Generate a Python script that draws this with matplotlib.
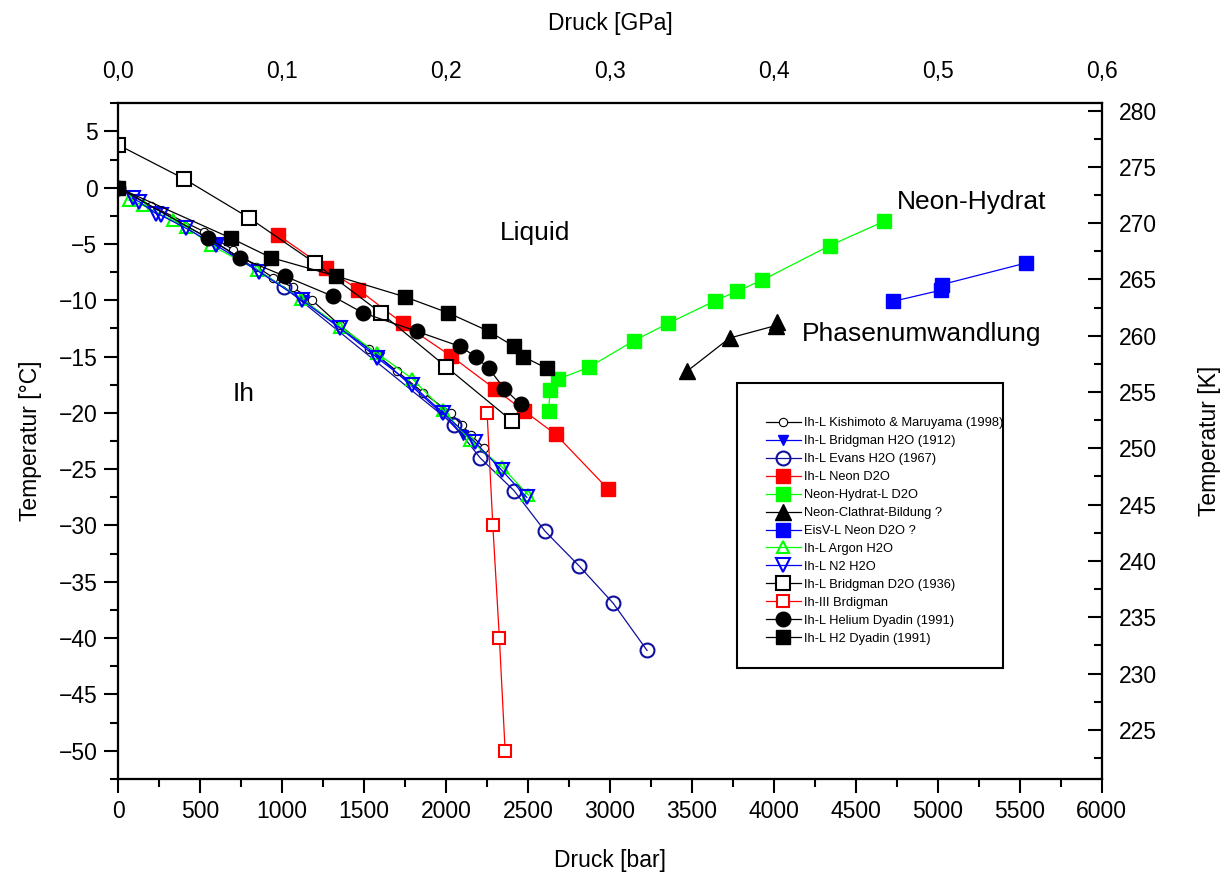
import matplotlib
matplotlib.use("Agg")
import matplotlib.pyplot as plt
from matplotlib.patches import Rectangle
from matplotlib.ticker import MultipleLocator, FuncFormatter

plt.rcParams['font.family'] = ['Liberation Sans', 'DejaVu Sans']

# pressure in bar, temperature in deg C
kishimoto_p = [0, 200, 523, 700, 842, 946, 1065, 1183, 1350, 1530, 1700, 1860, 2029, 2096, 2153, 2232]
kishimoto_t = [0, -1.6, -3.9, -5.5, -7.0, -8.0, -8.85, -10.0, -12.2, -14.3, -16.3, -18.2, -20.05, -21.1, -22.0, -23.1]

bridgman_h2o_p = [0, 610, 1130, 1590, 1970, 2100]
bridgman_h2o_t = [0, -5.0, -10.0, -15.0, -20.0, -22.0]

evans_p = [1010, 2048, 2208, 2414, 2603, 2812, 3019, 3226]
evans_t = [-8.8, -21.05, -24.0, -26.9, -30.5, -33.6, -36.9, -41.1]

neon_d2o_p = [975, 1265, 1465, 1735, 2030, 2300, 2478, 2668, 2990]
neon_d2o_t = [-4.2, -7.15, -9.05, -12.05, -14.95, -17.9, -19.85, -21.9, -26.8]

hydrat_p = [2625, 2635, 2685, 2870, 3145, 3355, 3640, 3775, 3930, 4340, 4670]
hydrat_t = [-19.8, -18.0, -17.0, -15.95, -13.6, -12.05, -10.05, -9.2, -8.2, -5.15, -3.0]

clathrat_p = [3470, 3730, 4010, 4020]
clathrat_t = [-16.3, -13.35, -12.25, -11.95]

eisv_p = [4725, 5020, 5025, 5535]
eisv_t = [-10.1, -9.1, -8.6, -6.7]

argon_p = [65, 148, 331, 413, 564, 848, 1112, 1355, 1579, 1792, 1982, 2147, 2340, 2502]
argon_t = [-1.1, -1.55, -2.9, -3.45, -5.1, -7.3, -9.85, -12.35, -14.7, -16.95, -19.75, -22.45, -24.8, -27.3]

n2_p = [88, 128, 230, 260, 413, 595, 858, 1122, 1355, 1579, 1792, 1984, 2177, 2340, 2492]
n2_t = [-0.95, -1.25, -2.3, -2.45, -3.6, -5.1, -7.45, -10.0, -12.5, -15.1, -17.5, -20.05, -22.6, -25.1, -27.5]

bridgman_d2o_p = [0, 400, 800, 1200, 1600, 2000, 2400]
bridgman_d2o_t = [3.8, 0.8, -2.7, -6.7, -11.1, -15.9, -20.7]

ih3_p = [2250, 2285, 2325, 2360]
ih3_t = [-20, -30, -40, -50]

helium_p = [0, 550, 740, 1015, 1310, 1490, 1820, 2085, 2180, 2260, 2355, 2455]
helium_t = [0, -4.5, -6.2, -7.85, -9.65, -11.1, -12.75, -14.1, -15.0, -16.05, -17.85, -19.25]

h2_p = [0, 690, 930, 1330, 1750, 2010, 2260, 2415, 2470, 2615]
h2_t = [0, -4.5, -6.2, -7.85, -9.7, -11.1, -12.75, -14.1, -15.0, -16.05]

labels = ['Ih-L Kishimoto & Maruyama (1998)', 'Ih-L Bridgman H2O (1912)', 'Ih-L Evans H2O (1967)',
          'Ih-L Neon D2O', 'Neon-Hydrat-L D2O', 'Neon-Clathrat-Bildung ?', 'EisV-L Neon D2O ?',
          'Ih-L Argon H2O', 'Ih-L N2 H2O', 'Ih-L Bridgman D2O (1936)', 'Ih-III Brdigman',
          'Ih-L Helium Dyadin (1991)', 'Ih-L H2 Dyadin (1991)']

# (x, y, line colour, marker, marker size, face colour, edge colour, edge width)
series = [
    (kishimoto_p, kishimoto_t, 'black', 'o', 6, 'white', 'black', 0.8),
    (bridgman_h2o_p, bridgman_h2o_t, '#0000ff', 'v', 7, '#0000ff', '#0000ff', 1.0),
    (evans_p, evans_t, '#1010a0', 'o', 10, 'none', '#1010a0', 1.5),
    (neon_d2o_p, neon_d2o_t, '#ff0000', 's', 10, '#ff0000', '#ff0000', 1.0),
    (hydrat_p, hydrat_t, '#00ff00', 's', 10, '#00ff00', '#00ff00', 1.0),
    (clathrat_p, clathrat_t, 'black', '^', 11, 'black', 'black', 1.0),
    (eisv_p, eisv_t, '#0000ff', 's', 10, '#0000ff', '#0000ff', 1.0),
    (argon_p, argon_t, '#00ff00', '^', 9, 'none', '#00ff00', 1.5),
    (n2_p, n2_t, '#0000ff', 'v', 10, 'none', '#0000ff', 1.5),
    (bridgman_d2o_p, bridgman_d2o_t, 'black', 's', 9.5, 'white', 'black', 1.5),
    (ih3_p, ih3_t, '#ff0000', 's', 9, 'white', '#ff0000', 1.5),
    (helium_p, helium_t, 'black', 'o', 10.5, 'black', 'black', 1.0),
    (h2_p, h2_t, 'black', 's', 10, 'black', 'black', 1.0),
]

fig = plt.figure(figsize=(12.31, 8.8), dpi=100)
ax = fig.add_axes([0.0961, 0.115, 0.7989, 0.7683])

for (x, y, lc, m, ms, fc, ec, ew), lab in zip(series, labels):
    ax.plot(x, y, '-', color=lc, lw=0.9, marker=m, ms=ms, mfc=fc, mec=ec, mew=ew, label=lab)

ax.set_xlim(0, 6000)
ax.set_ylim(-52.5, 7.55)
ax.xaxis.set_major_locator(MultipleLocator(500))
ax.xaxis.set_minor_locator(MultipleLocator(250))
ax.yaxis.set_major_locator(MultipleLocator(5))
ax.yaxis.set_minor_locator(MultipleLocator(2.5))
ax.tick_params(which='major', direction='out', length=10, width=1.5, labelsize=16.5, pad=5)
ax.tick_params(which='minor', direction='out', length=5.5, width=1.5)
ax.tick_params(top=False, right=False)
for sp in ax.spines.values():
    sp.set_linewidth(1.5)
ax.set_xlabel('Druck [bar]', fontsize=16.5, labelpad=19)
ax.set_ylabel('Temperatur [°C]', fontsize=16.5, labelpad=12)

# top axis in GPa
axt = ax.twiny()
axt.set_xlim(0, 0.6)
axt.xaxis.set_major_locator(MultipleLocator(0.1))
axt.xaxis.set_major_formatter(FuncFormatter(lambda v, _: f'{v:.1f}'.replace('.', ',')))
axt.tick_params(axis='x', which='major', direction='in', length=0, labelsize=16.5, pad=14)
axt.set_xlabel('Druck [GPa]', fontsize=16.5, labelpad=22)

# right axis in K
axr = ax.twinx()
axr.set_ylim(-52.5 + 273.15, 7.55 + 273.15)
axr.yaxis.set_major_locator(MultipleLocator(5))
axr.yaxis.set_minor_locator(MultipleLocator(2.5))
axr.tick_params(axis='y', which='major', direction='in', length=10, width=1.5, labelsize=16.5, pad=12)
axr.tick_params(axis='y', which='minor', direction='in', length=5.5, width=1.5)
axr.set_ylabel('Temperatur [K]', fontsize=16.5, labelpad=30)
for a in (axt, axr):
    for sp in a.spines.values():
        sp.set_linewidth(1.5)

ax.text(2542, -4.05, 'Liquid', fontsize=19, ha='center', va='center')
ax.text(766, -18.3, 'Ih', fontsize=19, ha='center', va='center')
ax.text(4750, -1.24, 'Neon-Hydrat', fontsize=19, ha='left', va='center')
ax.text(4169, -13.0, 'Phasenumwandlung', fontsize=19, ha='left', va='center')

ax.add_patch(Rectangle((0.629, 0.1639), 0.2707, 0.422, transform=ax.transAxes,
                       fill=False, lw=1.5, ec='black', zorder=5))
ax.legend(loc='upper left', bbox_to_anchor=(0.6583, 0.5350), frameon=False, fontsize=9.3,
          handlelength=2.7, handletextpad=0.3, labelspacing=0.46, borderpad=0, borderaxespad=0)

fig.savefig('out.png', dpi=100)
